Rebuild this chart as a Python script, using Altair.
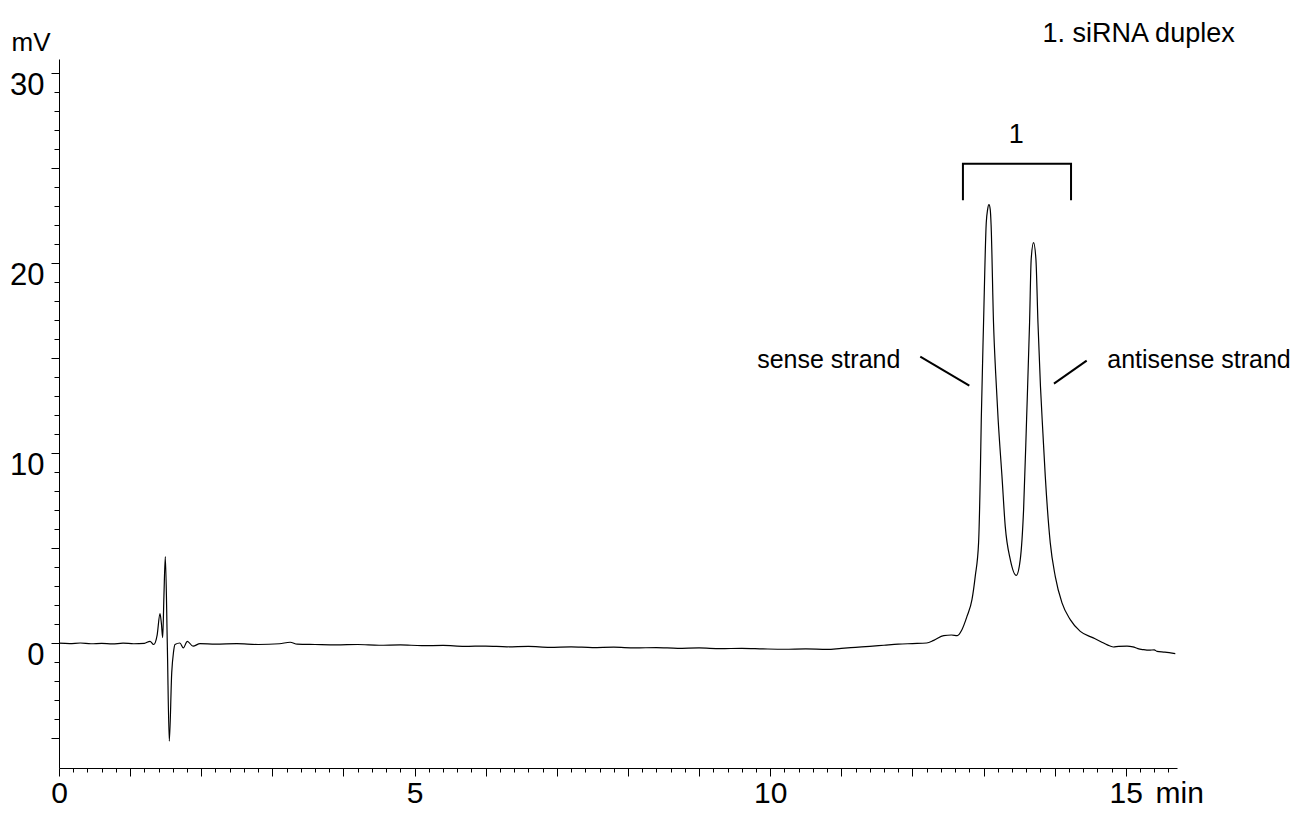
import altair as alt
import pandas as pd

# ---- chromatogram trace (time in min, signal in mV) ----
time_min = [
    0.0, 0.15, 0.3, 0.45, 0.6, 0.75, 0.9, 1.05, 1.2, 1.28, 1.33,
    1.38, 1.42, 1.44, 1.458, 1.475, 1.495, 1.523, 1.551, 1.585, 1.61, 1.631,
    1.70, 1.748, 1.804, 1.885, 1.983,
    2.2, 2.5, 2.8, 3.1, 3.25, 3.35, 3.6, 3.9, 4.2, 4.5, 4.8, 5.1, 5.4, 5.7,
    6.0, 6.3, 6.6, 6.9, 7.2, 7.5, 7.8, 8.1, 8.4, 8.7, 9.0, 9.3, 9.6, 9.9,
    10.2, 10.5, 10.8, 11.0, 11.2, 11.4, 11.6, 11.8, 12.0, 12.2, 12.3, 12.44,
    12.55, 12.63, 12.696, 12.767, 12.837, 12.883, 12.930, 12.954, 12.968,
    13.000, 13.038, 13.057, 13.076, 13.094, 13.106, 13.14, 13.17, 13.205,
    13.259, 13.305, 13.376, 13.460, 13.516, 13.563, 13.605, 13.647, 13.67,
    13.703, 13.736, 13.765, 13.80, 13.835, 13.868, 13.938, 14.008, 14.103,
    14.219, 14.360, 14.543, 14.65, 14.74, 14.824, 14.9, 15.017, 15.1, 15.17,
    15.246, 15.33, 15.4, 15.439, 15.55, 15.696,
]
signal_mv = [
    -0.03, -0.05, -0.02, -0.06, -0.04, -0.07, -0.03, -0.06, -0.04, 0.07, -0.1,
    0.4, 1.53, 1.0, 0.26, 2.4, 4.53, -0.1, -5.19, -1.58, -0.5, -0.1,
    -0.02, -0.28, 0.07, -0.19, -0.05,
    -0.08, -0.05, -0.1, -0.06, 0.02, -0.08, -0.1, -0.12, -0.1, -0.14, -0.12,
    -0.16, -0.15, -0.2, -0.18, -0.22, -0.2, -0.25, -0.22, -0.26, -0.24, -0.28,
    -0.26, -0.3, -0.28, -0.32, -0.3, -0.33, -0.35, -0.33, -0.36, -0.3, -0.25,
    -0.2, -0.14, -0.08, -0.05, -0.02, 0.12, 0.37,
    0.4, 0.37, 0.68, 1.38, 2.26, 3.49, 5.25, 8.75, 11.74,
    16.84, 22.1, 22.79, 23.05, 22.79, 22.0, 16.84, 14.2, 11.74,
    8.75, 6.12, 4.37, 3.54, 4.37, 7.0, 11.74, 16.84, 20.2,
    21.05, 20.2, 16.84, 13.5, 11.0, 8.75, 5.25, 3.49, 2.09,
    1.21, 0.59, 0.25, 0.05, -0.12, -0.23, -0.2, -0.19, -0.22, -0.32,
    -0.37, -0.4, -0.38, -0.46, -0.5, -0.58,
]

# ---- annotations ----
bracket_x = [12.71, 12.71, 14.23, 14.23]
bracket_y = [23.28, 25.21, 25.21, 23.28]

pointer_x = [12.11, 13.99]
pointer_x2 = [12.80, 14.45]
pointer_y = [15.05, 13.63]
pointer_y2 = [13.53, 14.84]

left_text = ["antisense strand"]
left_x = [14.74]
left_y = [14.47]

title_text = ["1. siRNA duplex"]
title_x = [13.83]
title_y = [31.63]

right_text = ["sense strand"]
right_x = [11.83]
right_y = [14.47]

center_text = ["1"]
center_x = [13.46]
center_y = [26.32]

x_tick_values = [round(0.2 * i, 1) for i in range(0, 79)]
y_tick_values = list(range(-5, 31))

FONT = "Liberation Sans"
X_DOMAIN = [0, 15.72]
Y_DOMAIN = [-6.6, 30.72]

trace = pd.DataFrame({"t": time_min, "mv": signal_mv})

x_scale = alt.Scale(domain=X_DOMAIN, nice=False, zero=False)
y_scale = alt.Scale(domain=Y_DOMAIN, nice=False, zero=False)

x_axis = alt.Axis(
    values=x_tick_values,
    tickCount=500,
    tickSize={"condition": {"test": "abs(datum.value - round(datum.value)) < 0.01", "value": 8}, "value": 4},
    labelExpr="abs(datum.value - 5*round(datum.value/5)) < 0.01 ? format(datum.value, 'd') : ''",
    labelOverlap=False,
    labelFlush=False,
    labelFont=FONT,
    labelFontSize=30,
    labelColor="black",
    labelBaseline="alphabetic",
    labelPadding=26,
    domainColor="black",
    tickColor="black",
    grid=False,
    title="min",
    titleFont=FONT,
    titleFontSize=30,
    titleFontWeight="normal",
    titleColor="black",
    titleAngle=0,
    titleAlign="left",
    titleBaseline="alphabetic",
    titleX=1096,
    titleY=34,
)

y_axis = alt.Axis(
    values=y_tick_values,
    tickCount=500,
    tickSize={"condition": {"test": "abs(datum.value - 5*round(datum.value/5)) < 0.01", "value": 8}, "value": 5},
    labelExpr="abs(datum.value - 10*round(datum.value/10)) < 0.01 ? format(datum.value, 'd') : ''",
    labelOverlap=False,
    labelFlush=False,
    labelFont=FONT,
    labelFontSize=31,
    labelColor="black",
    labelBaseline="middle",
    labelOffset=13,
    labelPadding=7,
    domainColor="black",
    tickColor="black",
    grid=False,
    title="mV",
    titleFont=FONT,
    titleFontSize=26,
    titleFontWeight="normal",
    titleColor="black",
    titleAngle=0,
    titleAlign="left",
    titleBaseline="alphabetic",
    titleX=-48,
    titleY=-9,
)

line = alt.Chart(trace).mark_line(color="black", strokeWidth=1.2, interpolate="monotone").encode(
    x=alt.X("t:Q", scale=x_scale, axis=x_axis),
    y=alt.Y("mv:Q", scale=y_scale, axis=y_axis),
)

bracket = alt.Chart(pd.DataFrame({"bx": bracket_x, "by": bracket_y, "i": list(range(len(bracket_x)))})).mark_line(
    color="black", strokeWidth=2
).encode(x=alt.X("bx:Q", scale=x_scale), y=alt.Y("by:Q", scale=y_scale), order="i:O")

pointers = alt.Chart(pd.DataFrame({"x": pointer_x, "x2": pointer_x2, "y": pointer_y, "y2": pointer_y2})).mark_rule(
    color="black", strokeWidth=2
).encode(x=alt.X("x:Q", scale=x_scale), x2="x2:Q", y=alt.Y("y:Q", scale=y_scale), y2="y2:Q")

def text_layer(texts, xs, ys, align, size):
    df = pd.DataFrame({"label": texts, "x": xs, "y": ys})
    return alt.Chart(df).mark_text(
        align=align, baseline="alphabetic", font=FONT, fontSize=size, color="black"
    ).encode(x=alt.X("x:Q", scale=x_scale), y=alt.Y("y:Q", scale=y_scale), text="label:N")

texts_left = text_layer(left_text, left_x, left_y, "left", 25)
texts_title = text_layer(title_text, title_x, title_y, "left", 27)
texts_right = text_layer(right_text, right_x, right_y, "right", 25)
texts_center = text_layer(center_text, center_x, center_y, "center", 27)

chart = alt.layer(line, bracket, pointers, texts_left, texts_title, texts_right, texts_center).properties(
    width=1118,
    height=709,
    autosize=alt.AutoSizeParams(type="none"),
    padding={"left": 51, "top": 51, "right": 117, "bottom": 40},
).configure(background="white").configure_view(stroke=None, strokeWidth=0)

chart.save("out.html", embed_options={"renderer": "svg", "actions": False})
